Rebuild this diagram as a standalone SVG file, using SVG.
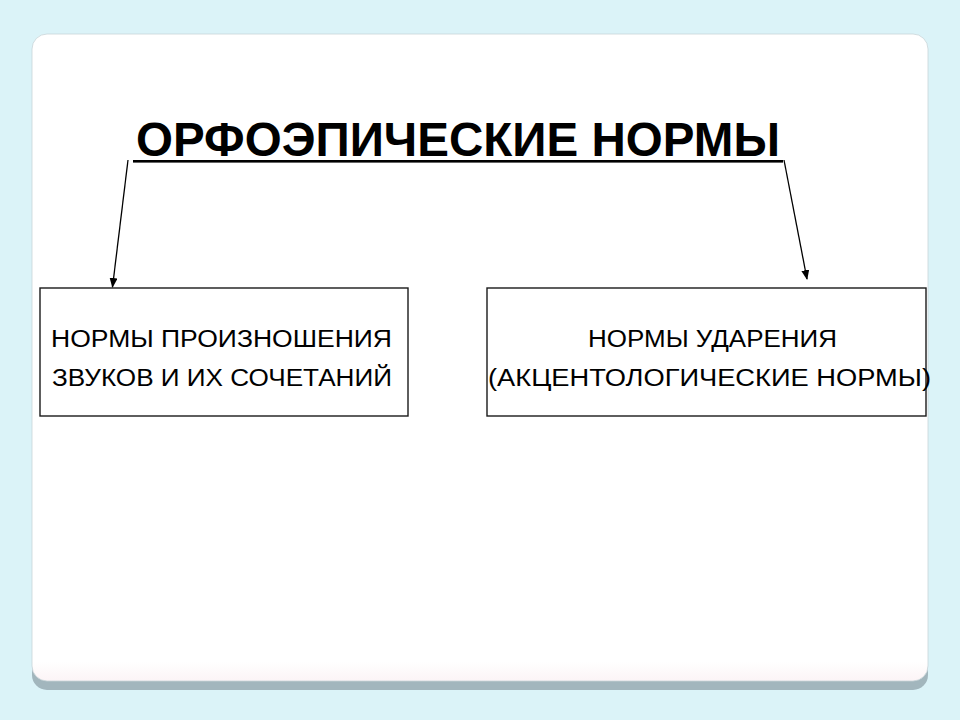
<svg xmlns="http://www.w3.org/2000/svg" width="960" height="720" viewBox="0 0 960 720">
<defs>
<style>
.box{fill:#ffffff;stroke:#1a1a1a;stroke-width:1.4}
.lbl{font-family:"Liberation Sans",Arial,sans-serif;font-size:23.5px;fill:#000}
.title{font-family:"Liberation Sans",Arial,sans-serif;font-size:48px;font-weight:bold;fill:#000}
.conn{stroke:#000;stroke-width:1.3;fill:none}
</style>
<marker id="ah" markerWidth="10" markerHeight="8" refX="9" refY="4" orient="auto" markerUnits="userSpaceOnUse">
<path d="M0,0 L10,4 L0,8 Z" fill="#000"/>
</marker>
<linearGradient id="sg" x1="0" y1="0" x2="0" y2="1">
<stop offset="0.97" stop-color="#ffffff"/>
<stop offset="1" stop-color="#fcf4f6"/>
</linearGradient>
</defs>
<rect x="0" y="0" width="960" height="720" fill="#dbf3f8"/>
<g id="slide">
<rect x="32" y="44" width="896" height="646" rx="15" fill="#a2b6bd"/>
<rect x="32" y="34" width="896" height="647" rx="15" fill="url(#sg)" stroke="#c8d4d8" stroke-width="0.8"/>
</g>
<g id="title">
<text class="title" x="136" y="156" textLength="644" lengthAdjust="spacingAndGlyphs">ОРФОЭПИЧЕСКИЕ НОРМЫ</text>
<rect x="133" y="160" width="650" height="2.6" fill="#000"/>
</g>
<g id="node-left">
<rect class="box" x="40" y="288" width="368" height="128"/>
<text class="lbl" x="51" y="347" textLength="341" lengthAdjust="spacingAndGlyphs">НОРМЫ ПРОИЗНОШЕНИЯ</text>
<text class="lbl" x="52" y="386" textLength="340" lengthAdjust="spacingAndGlyphs">ЗВУКОВ И ИХ СОЧЕТАНИЙ</text>
</g>
<g id="node-right">
<rect class="box" x="487" y="288" width="439" height="128"/>
<text class="lbl" x="588" y="347" textLength="249" lengthAdjust="spacingAndGlyphs">НОРМЫ УДАРЕНИЯ</text>
<text class="lbl" x="488" y="386" textLength="443" lengthAdjust="spacingAndGlyphs">(АКЦЕНТОЛОГИЧЕСКИЕ НОРМЫ)</text>
</g>
<g id="connectors">
<line class="conn" x1="128" y1="160" x2="112.5" y2="287" marker-end="url(#ah)"/>
<line class="conn" x1="784" y1="160" x2="807" y2="279" marker-end="url(#ah)"/>
</g>
</svg>
